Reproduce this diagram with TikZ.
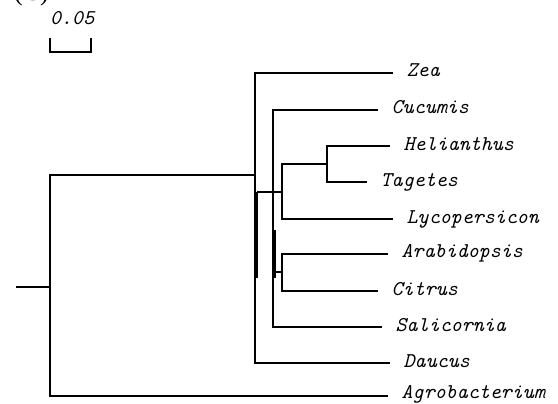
\documentclass[tikz,border=0pt]{standalone}
\usepackage{fontspec}
\newfontfamily\capfont{Liberation Serif}
\begin{document}
\begin{tikzpicture}[x=1pt,y=-1pt,
  br/.style={line width=2.3pt, black},
  leaf/.style={anchor=base west, inner sep=0pt, font=\ttfamily\itshape\fontsize{21}{23}\selectfont},
]
\useasboundingbox (0,0) rectangle (558,404);
% title and scale bar
\node[anchor=base west, inner sep=0pt, font=\capfont\fontsize{26}{28}\selectfont] (ttl) at (14,1) {(C)};
\node[leaf] (sbl) at (50,25) {0.05};
\coordinate (sbA) at (50,38);
\coordinate (sbB) at (91,38);
\draw[br] (sbA) -- (50,52) -- (91,52) -- (sbB);
% leaf ends
\coordinate (zeaE) at (393,73);
\coordinate (cucE) at (378,110);
\coordinate (helE) at (390,146);
\coordinate (tagE) at (367,182);
\coordinate (lycE) at (393,219);
\coordinate (araE) at (388,254);
\coordinate (citE) at (378,291);
\coordinate (salE) at (382,327);
\coordinate (dauE) at (390,363);
\coordinate (agrE) at (388,396);
% labels
\foreach \c/\t in {zea/Zea,cuc/Cucumis,hel/Helianthus,tag/Tagetes,lyc/Lycopersicon,ara/Arabidopsis,cit/Citrus,sal/Salicornia,dau/Daucus}
  \node[leaf] (\c) at ([xshift=13.5pt,yshift=-4pt]\c E) {\t};
\node[leaf] (agr) at ([xshift=13.5pt,yshift=-2pt]agrE) {Agrobacterium};
% internal nodes
\coordinate (stub) at (16,287);
\coordinate (root) at (50,287);
\coordinate (ing) at (255,175);
\coordinate (jtop) at (257,192);
\coordinate (jbot) at (257,278);
\coordinate (htl) at (282,192);
\coordinate (ht) at (327,164);
\coordinate (kn) at (273,230);
\coordinate (k2top) at (275,230);
\coordinate (k2bot) at (275,278);
\coordinate (acl) at (275,272);
\coordinate (ac) at (282,272);
% branches
\draw[br] (stub) -- (root);
\draw[br] (root) |- (ing);
\draw[br] (root) |- (agrE);
\draw[br] (ing) |- (zeaE);
\draw[br] (ing) |- (dauE);
\draw[br] (jtop) -- (jbot);
\draw[br] (jtop) -- (htl);
\draw[br] (htl) |- (ht);
\draw[br] (htl) |- (lycE);
\draw[br] (ht) |- (helE);
\draw[br] (ht) |- (tagE);
\draw[br] (kn) |- (cucE);
\draw[br] (kn) |- (salE);
\draw[br] (k2top) -- (k2bot);
\draw[br] (acl) -- (ac);
\draw[br] (ac) |- (araE);
\draw[br] (ac) |- (citE);
\end{tikzpicture}
\end{document}
